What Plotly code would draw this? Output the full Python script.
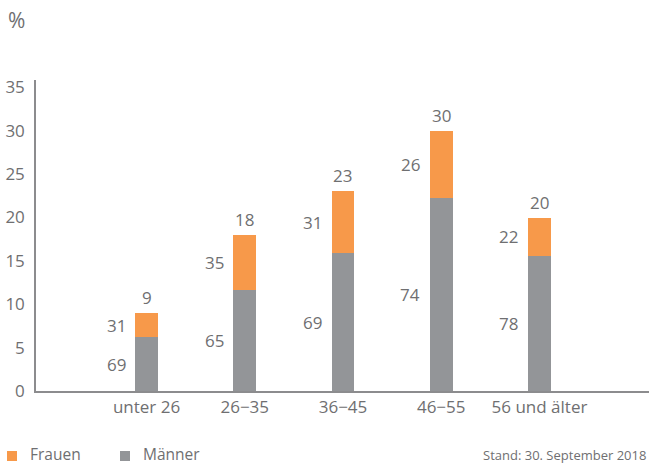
import plotly.graph_objects as go

# Altersgruppen und Anteile
categories = ["unter 26", "26\u221235", "36\u221245", "46\u221255", "56 und älter"]
totals = [9, 18, 23, 30, 20]            # Anteil der Altersgruppe in %
share_frauen = [31, 35, 31, 26, 22]     # davon Frauen in %
share_maenner = [69, 65, 69, 74, 78]    # davon Männer in %
y_ticks = [0, 5, 10, 15, 20, 25, 30, 35]

series_names = ["Frauen", "Männer"]
ORANGE = "#f7994a"
GRAY = "#939598"
TEXT = "#6f6f71"
AXIS = "#8c8c8e"
FONT = "Open Sans"

seg_m = [t * s / 100 for t, s in zip(totals, share_maenner)]
seg_f = [t * s / 100 for t, s in zip(totals, share_frauen)]

W, H = 649, 464
ML, MR, MT, MB = 36, 0, 80, 73
PW, PH = W - ML - MR, H - MT - MB

fig = go.Figure()
fig.add_trace(go.Bar(x=categories, y=seg_m, name=series_names[1],
                     marker=dict(color=GRAY, line=dict(width=0)),
                     width=0.234, hoverinfo="skip"))
fig.add_trace(go.Bar(x=categories, y=seg_f, name=series_names[0],
                     marker=dict(color=ORANGE, line=dict(width=0)),
                     width=0.234, hoverinfo="skip"))

ann = []
for c, t, m, f, sm, sf in zip(categories, totals, seg_m, seg_f,
                              share_maenner, share_frauen):
    # Gesamtwert über dem Balken
    ann.append(dict(x=c, y=t, xref="x", yref="y", text=str(t),
                    showarrow=False, yanchor="bottom", yshift=2,
                    font=dict(family=FONT, size=17, color=TEXT)))
    # Frauenanteil links neben dem orangen Segment
    ann.append(dict(x=c, y=m + f / 2, xref="x", yref="y", text=str(sf),
                    showarrow=False, xanchor="right", yanchor="middle",
                    xshift=-19, font=dict(family=FONT, size=17, color=TEXT)))
    # Männeranteil links neben dem grauen Segment
    ann.append(dict(x=c, y=m / 2, xref="x", yref="y", text=str(sm),
                    showarrow=False, xanchor="right", yanchor="middle",
                    xshift=-19, font=dict(family=FONT, size=17, color=TEXT)))


def px_x(px):
    return (px - ML) / PW


def px_y(py):
    return (H - MB - py) / PH


# Einheit oben links
ann.append(dict(x=px_x(6), y=px_y(20), xref="paper", yref="paper", text="%",
                showarrow=False, xanchor="left", yanchor="middle",
                font=dict(family=FONT, size=21, color=TEXT)))

# Legende unten
legend_items = [(series_names[0], ORANGE, 7), (series_names[1], GRAY, 120)]
shapes = []
for name, col, x0 in legend_items:
    shapes.append(dict(type="rect", xref="paper", yref="paper",
                       x0=px_x(x0), x1=px_x(x0 + 10),
                       y0=px_y(461), y1=px_y(451),
                       fillcolor=col, line=dict(width=0)))
    ann.append(dict(x=px_x(x0 + 21), y=px_y(453.5), xref="paper", yref="paper",
                    text=name, showarrow=False, xanchor="left", yanchor="middle",
                    font=dict(family=FONT, size=15.5, color=TEXT)))

# Stand
ann.append(dict(x=px_x(648), y=px_y(455), xref="paper", yref="paper",
                text="Stand: 30. September 2018", showarrow=False,
                xanchor="right", yanchor="middle",
                font=dict(family=FONT, size=13, color=TEXT)))

fig.update_layout(
    width=W, height=H,
    margin=dict(l=ML, r=MR, t=MT, b=MB, pad=0),
    barmode="stack",
    showlegend=False,
    plot_bgcolor="white", paper_bgcolor="white",
    font=dict(family=FONT, size=17, color=TEXT),
    annotations=ann, shapes=shapes,
    xaxis=dict(range=[-1.125, 5.115], showgrid=False, zeroline=False,
               showline=True, linecolor=AXIS, linewidth=1.5,
               ticks="", ticklabelstandoff=0,
               tickfont=dict(family=FONT, size=17, color=TEXT),
               fixedrange=True),
    yaxis=dict(range=[0, 35.85], tickvals=y_ticks, showgrid=False,
               zeroline=False, showline=True, linecolor=AXIS, linewidth=1.5,
               ticks="", ticklabelstandoff=6,
               tickfont=dict(family=FONT, size=17, color=TEXT),
               fixedrange=True),
)

fig.write_html("out.html", config={"displayModeBar": False})
